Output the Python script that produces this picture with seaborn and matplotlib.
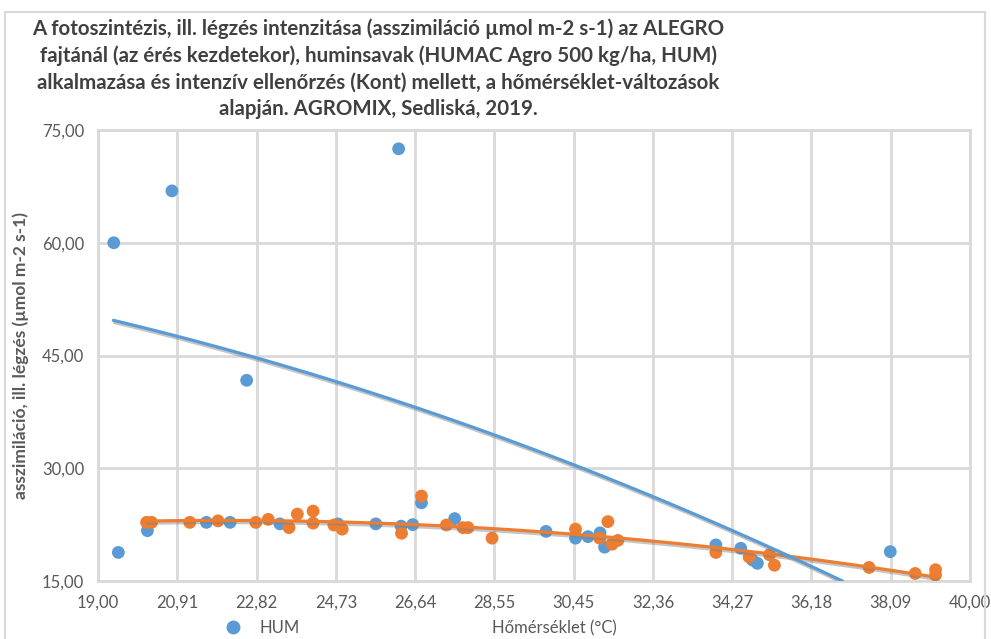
import numpy as np
import pandas as pd
import matplotlib
matplotlib.use("Agg")
import matplotlib.pyplot as plt
import matplotlib.patheffects as pe
from matplotlib.patches import Rectangle
from matplotlib.lines import Line2D
import seaborn as sns

# -------------------------------
# Data
# -------------------------------
hum_temp = [19.38, 19.49, 20.19, 20.78, 21.61, 22.18, 22.58, 23.38, 24.78, 25.69,
            26.24, 26.30, 26.58, 26.79, 27.59, 29.79, 30.50, 30.80, 31.09, 31.20,
            33.88, 34.48, 34.76, 34.88, 38.08]
hum_assim = [60.0, 18.8, 21.7, 66.9, 22.8, 22.8, 41.7, 22.6, 22.6, 22.6,
             72.5, 22.3, 22.5, 25.4, 23.3, 21.6, 20.7, 20.9, 21.4, 19.5,
             19.8, 19.35, 17.8, 17.35, 18.9]

kont_temp = [20.17, 20.29, 21.21, 21.89, 22.80, 23.10, 23.60, 23.80, 24.18, 24.18,
             24.68, 24.88, 26.31, 26.79, 27.39, 27.79, 27.91, 28.49, 30.50, 31.08,
             31.28, 31.38, 31.52, 33.88, 34.68, 35.17, 35.29, 37.57, 38.68, 39.17, 39.17]
kont_assim = [22.8, 22.8, 22.8, 23.0, 22.8, 23.2, 22.1, 23.9, 24.3, 22.7,
              22.45, 21.9, 21.35, 26.3, 22.45, 22.1, 22.1, 20.7, 21.9, 20.7,
              22.9, 19.9, 20.4, 18.8, 18.2, 18.5, 17.1, 16.8, 16.0, 16.5, 15.8]

# HUM trend line (Excel polynomial trendline), values read at the grid lines
hum_trend_temp = [19.37, 20.91, 22.82, 24.73, 26.64, 28.55, 30.45, 32.36, 34.27, 35.57, 36.93]
hum_trend_val = [49.6, 47.5, 44.8, 41.6, 38.3, 34.3, 30.3, 26.3, 21.6, 18.5, 15.1]

title = ("A fotoszintézis, ill. légzés intenzitása (asszimiláció µmol m-2 s-1) az ALEGRO\n"
         "fajtánál (az érés kezdetekor), huminsavak (HUMAC Agro 500 kg/ha, HUM)\n"
         "alkalmazása és intenzív ellenőrzés (Kont) mellett, a hőmérséklet-változások\n"
         "alapján. AGROMIX, Sedliská, 2019.")

hum = pd.DataFrame({"temp": hum_temp, "assim": hum_assim})
kont = pd.DataFrame({"temp": kont_temp, "assim": kont_assim})
hum_trend = pd.DataFrame({"temp": hum_trend_temp, "assim": hum_trend_val})

blue = "#5B9BD5"
orange = "#ED7D31"
grey_txt = "#595959"
grid_c = "#D9D9D9"

sns.set_style("white")
plt.rcParams["font.family"] = ["Lato", "DejaVu Sans"]

fig = plt.figure(figsize=(9.91, 6.39), dpi=100)
ax = fig.add_axes([98 / 991, 1 - 581 / 639, (970 - 98) / 991, (581 - 130) / 639])

# scatter points
sns.scatterplot(data=hum, x="temp", y="assim", ax=ax, color=blue, s=85,
                edgecolor="none", zorder=3)
sns.scatterplot(data=kont, x="temp", y="assim", ax=ax, color=orange, s=85,
                edgecolor="none", zorder=4)

# polynomial trend lines with Excel-like shadow
shadow = [pe.SimpleLineShadow(offset=(0.8, -1.6), shadow_color="#7f7f7f", alpha=0.45),
          pe.Normal()]
sns.regplot(data=kont, x="temp", y="assim", ax=ax, order=2, ci=None, scatter=False,
            line_kws=dict(color=orange, lw=2.3, zorder=5, path_effects=shadow))
sns.regplot(data=hum_trend, x="temp", y="assim", ax=ax, order=2, ci=None, scatter=False,
            line_kws=dict(color=blue, lw=2.3, zorder=6, path_effects=shadow))

ax.set_xlim(19, 40)
ax.set_ylim(15, 75)
xt = np.linspace(19, 40, 12)
yt = [15, 30, 45, 60, 75]
ax.set_xticks(xt)
ax.set_yticks(yt)
ax.set_xticklabels([f"{v:.2f}".replace(".", ",") for v in xt])
ax.set_yticklabels([f"{v:.2f}".replace(".", ",") for v in yt])
ax.tick_params(colors=grey_txt, labelsize=12, length=0, pad=10)
ax.grid(True, color=grid_c, lw=2)
for s in ax.spines.values():
    s.set_color(grid_c)
    s.set_linewidth(2)

ax.set_xlabel("")
ax.set_ylabel("asszimiláció, ill. légzés (µmol m-2 s-1)", color=grey_txt,
              fontsize=12.5, fontweight="bold", labelpad=9)

fig.text(378 / 991, 1 - 69 / 639, title, ha="center", va="center",
         fontsize=14.8, fontweight="bold", color="#404040", linespacing=1.4)

fig.text(554 / 991, 1 - 628 / 639, "Hőmérséklet (°C)", ha="center", va="center",
         fontsize=12, color=grey_txt)

handle = Line2D([], [], marker="o", ls="none", color=blue, markersize=9)
fig.legend(handles=[handle], labels=["HUM"], loc="center left",
           bbox_to_anchor=(201 / 991, 1 - 628 / 639), frameon=False,
           fontsize=12, labelcolor=grey_txt, handletextpad=0.6)

fig.add_artist(Rectangle((5 / 991, -0.05), 980 / 991, 1.05 - 12 / 639,
                         transform=fig.transFigure, fill=False,
                         edgecolor=grid_c, lw=1.5))

fig.savefig("out.png", dpi=100)
